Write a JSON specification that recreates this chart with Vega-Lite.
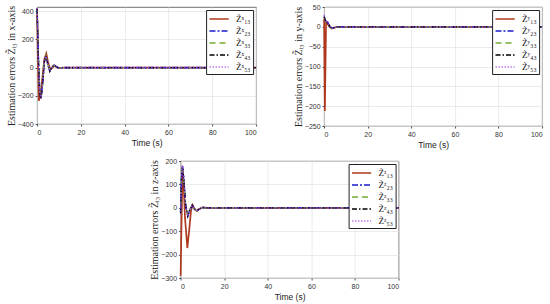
{
  "$schema": "https://vega.github.io/schema/vega-lite/v6.json",
  "padding": {"left": 5, "top": 2, "right": 2, "bottom": 2},
  "background": "white",
  "datasets": {
    "dx": [
      {"t":0,"v":380,"s":"Z̃ˣ₁₃"},{"t":0.3,"v":100,"s":"Z̃ˣ₁₃"},{"t":0.8,"v":-235,"s":"Z̃ˣ₁₃"},{"t":1.5,"v":-200,"s":"Z̃ˣ₁₃"},{"t":2.5,"v":-60,"s":"Z̃ˣ₁₃"},{"t":3.3,"v":60,"s":"Z̃ˣ₁₃"},{"t":4.2,"v":100,"s":"Z̃ˣ₁₃"},{"t":5,"v":40,"s":"Z̃ˣ₁₃"},{"t":6,"v":-15,"s":"Z̃ˣ₁₃"},{"t":7,"v":0,"s":"Z̃ˣ₁₃"},{"t":8,"v":12,"s":"Z̃ˣ₁₃"},{"t":9,"v":3,"s":"Z̃ˣ₁₃"},{"t":10,"v":-3,"s":"Z̃ˣ₁₃"},{"t":12,"v":0,"s":"Z̃ˣ₁₃"},{"t":100,"v":0,"s":"Z̃ˣ₁₃"},
      {"t":0,"v":420,"s":"Z̃ˣ₂₃"},{"t":0.6,"v":60,"s":"Z̃ˣ₂₃"},{"t":1.2,"v":-180,"s":"Z̃ˣ₂₃"},{"t":1.8,"v":-222,"s":"Z̃ˣ₂₃"},{"t":2.6,"v":-100,"s":"Z̃ˣ₂₃"},{"t":3.3,"v":40,"s":"Z̃ˣ₂₃"},{"t":4,"v":82,"s":"Z̃ˣ₂₃"},{"t":4.8,"v":30,"s":"Z̃ˣ₂₃"},{"t":5.8,"v":-25,"s":"Z̃ˣ₂₃"},{"t":6.8,"v":5,"s":"Z̃ˣ₂₃"},{"t":7.8,"v":18,"s":"Z̃ˣ₂₃"},{"t":9,"v":4,"s":"Z̃ˣ₂₃"},{"t":10,"v":-3,"s":"Z̃ˣ₂₃"},{"t":12,"v":0,"s":"Z̃ˣ₂₃"},{"t":100,"v":0,"s":"Z̃ˣ₂₃"},
      {"t":0,"v":415,"s":"Z̃ˣ₃₃"},{"t":0.6,"v":55,"s":"Z̃ˣ₃₃"},{"t":1.2,"v":-182,"s":"Z̃ˣ₃₃"},{"t":1.8,"v":-220,"s":"Z̃ˣ₃₃"},{"t":2.6,"v":-98,"s":"Z̃ˣ₃₃"},{"t":3.3,"v":42,"s":"Z̃ˣ₃₃"},{"t":4,"v":80,"s":"Z̃ˣ₃₃"},{"t":4.8,"v":30,"s":"Z̃ˣ₃₃"},{"t":5.8,"v":-24,"s":"Z̃ˣ₃₃"},{"t":6.8,"v":5,"s":"Z̃ˣ₃₃"},{"t":7.8,"v":17,"s":"Z̃ˣ₃₃"},{"t":9,"v":4,"s":"Z̃ˣ₃₃"},{"t":10,"v":-3,"s":"Z̃ˣ₃₃"},{"t":12,"v":0,"s":"Z̃ˣ₃₃"},{"t":100,"v":0,"s":"Z̃ˣ₃₃"},
      {"t":0,"v":418,"s":"Z̃ˣ₄₃"},{"t":0.6,"v":58,"s":"Z̃ˣ₄₃"},{"t":1.2,"v":-181,"s":"Z̃ˣ₄₃"},{"t":1.8,"v":-221,"s":"Z̃ˣ₄₃"},{"t":2.6,"v":-99,"s":"Z̃ˣ₄₃"},{"t":3.3,"v":41,"s":"Z̃ˣ₄₃"},{"t":4,"v":81,"s":"Z̃ˣ₄₃"},{"t":4.8,"v":30,"s":"Z̃ˣ₄₃"},{"t":5.8,"v":-25,"s":"Z̃ˣ₄₃"},{"t":6.8,"v":5,"s":"Z̃ˣ₄₃"},{"t":7.8,"v":18,"s":"Z̃ˣ₄₃"},{"t":9,"v":4,"s":"Z̃ˣ₄₃"},{"t":10,"v":-3,"s":"Z̃ˣ₄₃"},{"t":12,"v":0,"s":"Z̃ˣ₄₃"},{"t":100,"v":0,"s":"Z̃ˣ₄₃"},
      {"t":0,"v":425,"s":"Z̃ˣ₅₃"},{"t":0.6,"v":62,"s":"Z̃ˣ₅₃"},{"t":1.2,"v":-178,"s":"Z̃ˣ₅₃"},{"t":1.8,"v":-220,"s":"Z̃ˣ₅₃"},{"t":2.6,"v":-100,"s":"Z̃ˣ₅₃"},{"t":3.3,"v":40,"s":"Z̃ˣ₅₃"},{"t":4,"v":82,"s":"Z̃ˣ₅₃"},{"t":4.8,"v":30,"s":"Z̃ˣ₅₃"},{"t":5.8,"v":-25,"s":"Z̃ˣ₅₃"},{"t":6.8,"v":5,"s":"Z̃ˣ₅₃"},{"t":7.8,"v":18,"s":"Z̃ˣ₅₃"},{"t":9,"v":4,"s":"Z̃ˣ₅₃"},{"t":10,"v":-3,"s":"Z̃ˣ₅₃"},{"t":12,"v":0,"s":"Z̃ˣ₅₃"},{"t":100,"v":0,"s":"Z̃ˣ₅₃"}
    ],
    "dy": [
      {"t":0,"v":20,"s":"Z̃ʸ₁₃"},{"t":0.35,"v":-212,"s":"Z̃ʸ₁₃"},{"t":0.9,"v":12,"s":"Z̃ʸ₁₃"},{"t":1.5,"v":8,"s":"Z̃ʸ₁₃"},{"t":2.5,"v":0,"s":"Z̃ʸ₁₃"},{"t":4,"v":-4,"s":"Z̃ʸ₁₃"},{"t":6,"v":0,"s":"Z̃ʸ₁₃"},{"t":100,"v":0,"s":"Z̃ʸ₁₃"},
      {"t":0,"v":25,"s":"Z̃ʸ₂₃"},{"t":0.5,"v":18,"s":"Z̃ʸ₂₃"},{"t":1,"v":10,"s":"Z̃ʸ₂₃"},{"t":1.6,"v":12,"s":"Z̃ʸ₂₃"},{"t":2.5,"v":2,"s":"Z̃ʸ₂₃"},{"t":3.5,"v":-4,"s":"Z̃ʸ₂₃"},{"t":4.5,"v":-2,"s":"Z̃ʸ₂₃"},{"t":6,"v":0,"s":"Z̃ʸ₂₃"},{"t":100,"v":0,"s":"Z̃ʸ₂₃"},
      {"t":0,"v":24,"s":"Z̃ʸ₃₃"},{"t":0.5,"v":17,"s":"Z̃ʸ₃₃"},{"t":1,"v":9,"s":"Z̃ʸ₃₃"},{"t":1.6,"v":11,"s":"Z̃ʸ₃₃"},{"t":2.5,"v":2,"s":"Z̃ʸ₃₃"},{"t":3.5,"v":-5,"s":"Z̃ʸ₃₃"},{"t":4.2,"v":-6,"s":"Z̃ʸ₃₃"},{"t":4.6,"v":-2,"s":"Z̃ʸ₃₃"},{"t":6,"v":0,"s":"Z̃ʸ₃₃"},{"t":100,"v":0,"s":"Z̃ʸ₃₃"},
      {"t":0,"v":26,"s":"Z̃ʸ₄₃"},{"t":0.5,"v":18,"s":"Z̃ʸ₄₃"},{"t":1,"v":10,"s":"Z̃ʸ₄₃"},{"t":1.6,"v":12,"s":"Z̃ʸ₄₃"},{"t":2.5,"v":2,"s":"Z̃ʸ₄₃"},{"t":3.5,"v":-4,"s":"Z̃ʸ₄₃"},{"t":4.5,"v":-2,"s":"Z̃ʸ₄₃"},{"t":6,"v":0,"s":"Z̃ʸ₄₃"},{"t":100,"v":0,"s":"Z̃ʸ₄₃"},
      {"t":0,"v":30,"s":"Z̃ʸ₅₃"},{"t":0.5,"v":20,"s":"Z̃ʸ₅₃"},{"t":1,"v":10,"s":"Z̃ʸ₅₃"},{"t":1.6,"v":13,"s":"Z̃ʸ₅₃"},{"t":2.5,"v":2,"s":"Z̃ʸ₅₃"},{"t":3.5,"v":-4,"s":"Z̃ʸ₅₃"},{"t":4.5,"v":-2,"s":"Z̃ʸ₅₃"},{"t":6,"v":0,"s":"Z̃ʸ₅₃"},{"t":100,"v":0,"s":"Z̃ʸ₅₃"}
    ],
    "dz": [
      {"t":0,"v":-290,"s":"Z̃ᶻ₁₃"},{"t":0.45,"v":-50,"s":"Z̃ᶻ₁₃"},{"t":0.9,"v":160,"s":"Z̃ᶻ₁₃"},{"t":1.3,"v":120,"s":"Z̃ᶻ₁₃"},{"t":2,"v":-40,"s":"Z̃ᶻ₁₃"},{"t":3.1,"v":-172,"s":"Z̃ᶻ₁₃"},{"t":4,"v":-90,"s":"Z̃ᶻ₁₃"},{"t":4.8,"v":-10,"s":"Z̃ᶻ₁₃"},{"t":5.5,"v":12,"s":"Z̃ᶻ₁₃"},{"t":6.4,"v":-5,"s":"Z̃ᶻ₁₃"},{"t":7.4,"v":-14,"s":"Z̃ᶻ₁₃"},{"t":8.5,"v":-5,"s":"Z̃ᶻ₁₃"},{"t":10,"v":2,"s":"Z̃ᶻ₁₃"},{"t":12,"v":0,"s":"Z̃ᶻ₁₃"},{"t":100,"v":0,"s":"Z̃ᶻ₁₃"},
      {"t":0,"v":-20,"s":"Z̃ᶻ₂₃"},{"t":0.4,"v":120,"s":"Z̃ᶻ₂₃"},{"t":0.9,"v":178,"s":"Z̃ᶻ₂₃"},{"t":1.5,"v":120,"s":"Z̃ᶻ₂₃"},{"t":2.3,"v":10,"s":"Z̃ᶻ₂₃"},{"t":3.3,"v":-35,"s":"Z̃ᶻ₂₃"},{"t":4.2,"v":-10,"s":"Z̃ᶻ₂₃"},{"t":5.3,"v":10,"s":"Z̃ᶻ₂₃"},{"t":6.3,"v":-5,"s":"Z̃ᶻ₂₃"},{"t":7.4,"v":-14,"s":"Z̃ᶻ₂₃"},{"t":8.5,"v":-6,"s":"Z̃ᶻ₂₃"},{"t":10,"v":1,"s":"Z̃ᶻ₂₃"},{"t":12,"v":0,"s":"Z̃ᶻ₂₃"},{"t":100,"v":0,"s":"Z̃ᶻ₂₃"},
      {"t":0,"v":-25,"s":"Z̃ᶻ₃₃"},{"t":0.4,"v":118,"s":"Z̃ᶻ₃₃"},{"t":0.9,"v":176,"s":"Z̃ᶻ₃₃"},{"t":1.5,"v":118,"s":"Z̃ᶻ₃₃"},{"t":2.3,"v":10,"s":"Z̃ᶻ₃₃"},{"t":3.3,"v":-34,"s":"Z̃ᶻ₃₃"},{"t":4.2,"v":-10,"s":"Z̃ᶻ₃₃"},{"t":5.3,"v":10,"s":"Z̃ᶻ₃₃"},{"t":6.3,"v":-5,"s":"Z̃ᶻ₃₃"},{"t":7.4,"v":-13,"s":"Z̃ᶻ₃₃"},{"t":8.5,"v":-6,"s":"Z̃ᶻ₃₃"},{"t":10,"v":1,"s":"Z̃ᶻ₃₃"},{"t":12,"v":0,"s":"Z̃ᶻ₃₃"},{"t":100,"v":0,"s":"Z̃ᶻ₃₃"},
      {"t":0,"v":-22,"s":"Z̃ᶻ₄₃"},{"t":0.4,"v":122,"s":"Z̃ᶻ₄₃"},{"t":0.9,"v":177,"s":"Z̃ᶻ₄₃"},{"t":1.5,"v":120,"s":"Z̃ᶻ₄₃"},{"t":2.3,"v":10,"s":"Z̃ᶻ₄₃"},{"t":3.3,"v":-35,"s":"Z̃ᶻ₄₃"},{"t":4.2,"v":-10,"s":"Z̃ᶻ₄₃"},{"t":5.3,"v":10,"s":"Z̃ᶻ₄₃"},{"t":6.3,"v":-5,"s":"Z̃ᶻ₄₃"},{"t":7.4,"v":-14,"s":"Z̃ᶻ₄₃"},{"t":8.5,"v":-6,"s":"Z̃ᶻ₄₃"},{"t":10,"v":1,"s":"Z̃ᶻ₄₃"},{"t":12,"v":0,"s":"Z̃ᶻ₄₃"},{"t":100,"v":0,"s":"Z̃ᶻ₄₃"},
      {"t":0,"v":-30,"s":"Z̃ᶻ₅₃"},{"t":0.4,"v":130,"s":"Z̃ᶻ₅₃"},{"t":0.85,"v":182,"s":"Z̃ᶻ₅₃"},{"t":1.5,"v":122,"s":"Z̃ᶻ₅₃"},{"t":2.3,"v":10,"s":"Z̃ᶻ₅₃"},{"t":3.3,"v":-36,"s":"Z̃ᶻ₅₃"},{"t":4.2,"v":-10,"s":"Z̃ᶻ₅₃"},{"t":5.3,"v":10,"s":"Z̃ᶻ₅₃"},{"t":6.3,"v":-5,"s":"Z̃ᶻ₅₃"},{"t":7.4,"v":-14,"s":"Z̃ᶻ₅₃"},{"t":8.5,"v":-6,"s":"Z̃ᶻ₅₃"},{"t":10,"v":1,"s":"Z̃ᶻ₅₃"},{"t":12,"v":0,"s":"Z̃ᶻ₅₃"},{"t":100,"v":0,"s":"Z̃ᶻ₅₃"}
    ]
  },
  "vconcat": [
    {
      "hconcat": [
        {
          "width": 219, "height": 117,
          "data": {"name": "dx"},
          "mark": {"type": "line", "strokeCap": "butt"},
          "encoding": {
            "x": {"field": "t", "type": "quantitative", "scale": {"domain": [0, 100]}, "axis": {"title": "Time (s)", "values": [0, 20, 40, 60, 80, 100]}},
            "y": {"field": "v", "type": "quantitative", "scale": {"domain": [-400, 430], "nice": false}, "axis": {"title": "Estimation errors Z̃ᵢ₃ in x-axis", "values": [-400, -200, 0, 200, 400]}},
            "color": {"field": "s", "type": "nominal", "scale": {"range": ["#B0381E", "#1a1acc", "#77AC30", "#000000", "#9a3ee8"]}, "legend": {"title": null}},
            "strokeDash": {"field": "s", "type": "nominal", "scale": {"range": [[1, 0], [6, 2, 2, 2], [6, 4], [5, 2, 1.5, 2], [1.5, 1.5]]}, "legend": {"title": null}},
            "strokeWidth": {"field": "s", "type": "nominal", "scale": {"range": [1.7, 1.2, 1.2, 1.2, 1.2]}, "legend": {"title": null}}
          }
        },
        {
          "width": 218, "height": 119,
          "data": {"name": "dy"},
          "mark": {"type": "line", "strokeCap": "butt"},
          "encoding": {
            "x": {"field": "t", "type": "quantitative", "scale": {"domain": [0, 100]}, "axis": {"title": "Time (s)", "values": [0, 20, 40, 60, 80, 100]}},
            "y": {"field": "v", "type": "quantitative", "scale": {"domain": [-250, 50], "nice": false}, "axis": {"title": "Estimation errors Z̃ᵢ₃ in y-axis", "values": [-250, -200, -150, -100, -50, 0, 50]}},
            "color": {"field": "s", "type": "nominal", "scale": {"range": ["#B0381E", "#1a1acc", "#77AC30", "#000000", "#9a3ee8"]}, "legend": {"title": null}},
            "strokeDash": {"field": "s", "type": "nominal", "scale": {"range": [[1, 0], [6, 2, 2, 2], [6, 4], [5, 2, 1.5, 2], [1.5, 1.5]]}, "legend": {"title": null}},
            "strokeWidth": {"field": "s", "type": "nominal", "scale": {"range": [1.7, 1.2, 1.2, 1.2, 1.2]}, "legend": {"title": null}}
          }
        }
      ],
      "spacing": 32,
      "resolve": {"scale": {"color": "independent", "strokeDash": "independent", "strokeWidth": "independent", "x": "independent", "y": "independent"}, "legend": {"color": "independent", "strokeDash": "independent", "strokeWidth": "independent"}}
    },
    {
      "width": 218, "height": 117,
      "data": {"name": "dz"},
      "mark": {"type": "line", "strokeCap": "butt"},
      "encoding": {
        "x": {"field": "t", "type": "quantitative", "scale": {"domain": [0, 100]}, "axis": {"title": "Time (s)", "values": [0, 20, 40, 60, 80, 100]}},
        "y": {"field": "v", "type": "quantitative", "scale": {"domain": [-300, 200], "nice": false}, "axis": {"title": "Estimation errors Z̃ᵢ₃ in z-axis", "values": [-300, -200, -100, 0, 100, 200]}},
        "color": {"field": "s", "type": "nominal", "scale": {"range": ["#B0381E", "#1a1acc", "#77AC30", "#000000", "#9a3ee8"]}, "legend": {"title": null}},
        "strokeDash": {"field": "s", "type": "nominal", "scale": {"range": [[1, 0], [6, 2, 2, 2], [6, 4], [5, 2, 1.5, 2], [1.5, 1.5]]}, "legend": {"title": null}},
        "strokeWidth": {"field": "s", "type": "nominal", "scale": {"range": [1.7, 1.2, 1.2, 1.2, 1.2]}, "legend": {"title": null}}
      }
    }
  ],
  "spacing": 7,
  "center": true,
  "resolve": {"scale": {"color": "independent", "strokeDash": "independent", "strokeWidth": "independent", "x": "independent", "y": "independent"}, "legend": {"color": "independent", "strokeDash": "independent", "strokeWidth": "independent"}},
  "config": {
    "view": {"stroke": "#4d4d4d", "strokeWidth": 0.8},
    "axis": {
      "domain": false,
      "grid": true,
      "gridColor": "#e3e3e3",
      "gridWidth": 0.7,
      "tickSize": 2,
      "tickColor": "#4d4d4d",
      "labelFont": "Liberation Sans",
      "labelFontSize": 7,
      "labelColor": "#333333",
      "labelPadding": 2,
      "titleFontWeight": "normal",
      "titleColor": "#222222"
    },
    "axisX": {"titleFont": "Liberation Sans", "titleFontSize": 8.5, "titlePadding": 3},
    "axisY": {"titleFont": "Liberation Serif", "titleFontSize": 10, "titlePadding": 1},
    "legend": {
      "orient": "top-right",
      "offset": 3,
      "fillColor": "white",
      "strokeColor": "#222222",
      "padding": 2,
      "rowPadding": 0,
      "symbolType": "M-1.6,0H1.6",
      "symbolSize": 144,
      "symbolStrokeWidth": 1.6,
      "symbolOffset": 4,
      "labelFont": "Liberation Serif",
      "labelFontSize": 9,
      "labelColor": "#111111",
      "labelOffset": 10,
      "labelLimit": 60
    }
  }
}
